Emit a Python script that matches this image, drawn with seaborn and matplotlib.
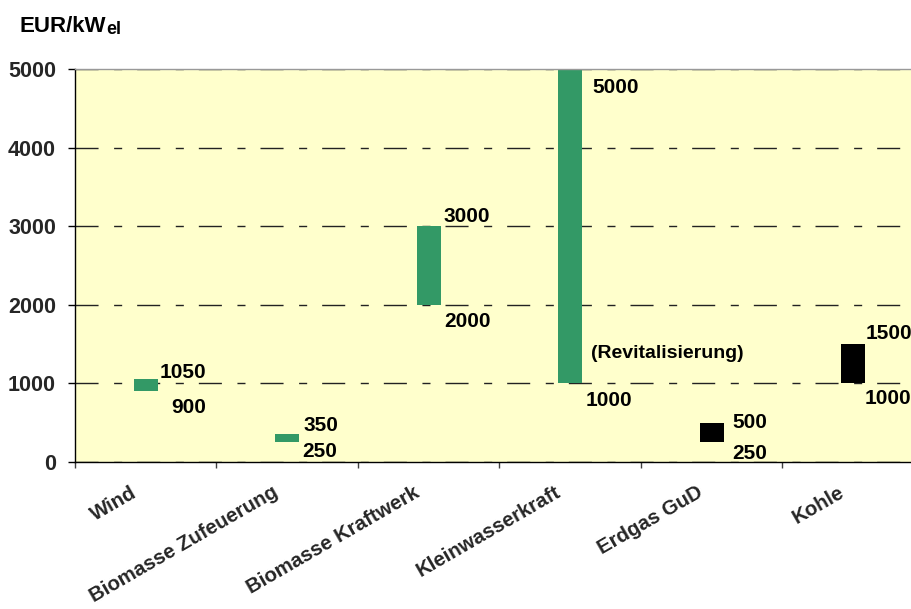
import numpy as np
import pandas as pd
import matplotlib
matplotlib.use("Agg")
import matplotlib.pyplot as plt
from matplotlib.transforms import ScaledTranslation
import seaborn as sns

# Investment cost ranges per technology (EUR per kW electrical)
categories = ["Wind", "Biomasse Zufeuerung", "Biomasse Kraftwerk",
              "Kleinwasserkraft", "Erdgas GuD", "Kohle"]
cost_low = [900, 250, 2000, 1000, 250, 1000]
cost_high = [1050, 350, 3000, 5000, 500, 1500]
renewable = [True, True, True, True, False, False]
y_ticks = [0, 1000, 2000, 3000, 4000, 5000]
unit_main = "EUR/kW"
unit_sub = "el"
hydro_note = "(Revitalisierung)"

# label placement (pixels, relative to bar's right edge; dy downward)
top_dx = [2, 4, 3, 10, 8.5, 0]
top_dy = [-1.5, -3, -4, 24, 5, -5]
bot_dx = [13, 3, 3, 3.5, 8, -0.5]
bot_dy = [21.5, 15, 22, 22.5, 16.5, 21]

GREEN = "#339966"
BLACK = "#000000"
PANEL = "#FFFFCC"
BAR_W = 0.17
VAL_FS = 15

sns.set_theme(style="white")
plt.rcParams["font.family"] = ["Liberation Sans", "DejaVu Sans"]
plt.rcParams["font.weight"] = "bold"
plt.rcParams["lines.scale_dashes"] = False
plt.rcParams["text.color"] = "black"

df = pd.DataFrame({
    "Technologie": categories,
    "Spanne": np.subtract(cost_high, cost_low),
    "Minimum": cost_low,
})

W, H = 912, 609
fig = plt.figure(figsize=(W / 100, H / 100), dpi=100)
ax = fig.add_axes([75 / W, 1 - 462 / H, 849 / W, 393 / H])
ax.set_facecolor(PANEL)

sns.barplot(data=df, x="Technologie", y="Spanne", order=categories,
            bottom=df["Minimum"].to_numpy(), width=BAR_W, color=GREEN,
            saturation=1, errorbar=None, linewidth=0, ax=ax)
for patch, is_ren in zip(ax.patches, renewable):
    patch.set_facecolor(GREEN if is_ren else BLACK)
    patch.set_edgecolor("none")

ax.set_xlabel("")
ax.set_ylabel("")
ax.set_xlim(-0.5, len(categories) - 0.5)
ax.set_ylim(0, 5000)
ax.set_yticks(y_ticks)
ax.set_yticklabels([str(v) for v in y_ticks], fontsize=15.5, fontweight="bold")

# category separators as major ticks, names as minor ticks at the centres
ax.set_xticks(np.arange(-0.5, len(categories), 1.0))
ax.set_xticklabels([])
ax.set_xticks(np.arange(len(categories)), minor=True)
ax.set_xticklabels(categories, minor=True, fontsize=14.7, fontweight="bold",
                   rotation=30, ha="right", va="top")
ax.tick_params(axis="x", which="major", bottom=True, length=4.3, width=1,
               color="#404040", direction="out")
ax.tick_params(axis="x", which="minor", bottom=True, length=0, pad=15)
ax.tick_params(axis="y", which="major", left=True, length=5, width=1,
               color="black", direction="out", pad=8.6)
shift = ScaledTranslation(-6 / 100, 0, fig.dpi_scale_trans)
for lbl in ax.get_xticklabels(minor=True):
    lbl.set_transform(lbl.get_transform() + shift)

ax.set_axisbelow(True)
ax.grid(axis="y", color="#222222", linewidth=1,
        linestyle=(0, (16.6, 11.2, 5.8, 10.8)))
ax.grid(axis="x", visible=False)

for side in ["left", "bottom"]:
    ax.spines[side].set_color("black")
    ax.spines[side].set_linewidth(1)
ax.spines["top"].set_color("#999999")
ax.spines["top"].set_linewidth(1)
ax.spines["right"].set_visible(False)

# value labels beside each bar
for i, (lo, hi) in enumerate(zip(cost_low, cost_high)):
    right = i + BAR_W / 2
    ax.annotate(str(hi), (right, hi), xytext=(top_dx[i], -top_dy[i]),
                textcoords="offset pixels", ha="left", va="baseline",
                fontsize=VAL_FS, fontweight="bold", annotation_clip=False)
    ax.annotate(str(lo), (right, lo), xytext=(bot_dx[i], -bot_dy[i]),
                textcoords="offset pixels", ha="left", va="baseline",
                fontsize=VAL_FS, fontweight="bold", annotation_clip=False)

hydro = categories.index("Kleinwasserkraft")
ax.annotate(hydro_note, (hydro + BAR_W / 2, cost_low[hydro]), xytext=(9, 25.5),
            textcoords="offset pixels", ha="left", va="baseline",
            fontsize=14, fontweight="bold")

# unit label with subscript
t_main = fig.text(20 / W, 1 - 31.7 / H, unit_main, fontsize=16,
                  fontweight="bold", ha="left", va="baseline")
renderer = fig.canvas.get_renderer()
bb = t_main.get_window_extent(renderer)
fig.text((bb.x1 - 0.5) / W, 1 - 33.5 / H, unit_sub, fontsize=13,
         fontweight="bold", ha="left", va="baseline")

fig.savefig("out.png", dpi=100, facecolor="white")
